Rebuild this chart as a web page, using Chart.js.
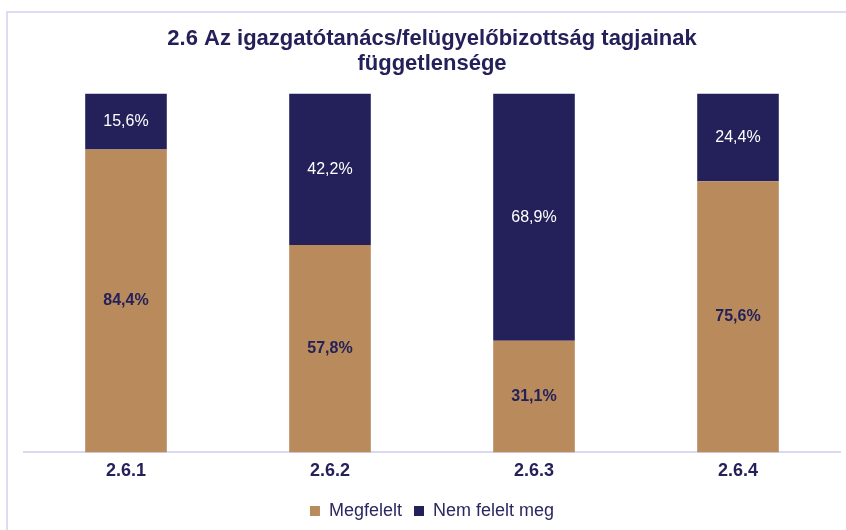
<!DOCTYPE html>
<html>
<head>
<meta charset="utf-8">
<script src="https://cdn.jsdelivr.net/npm/chart.js@4"></script>
<style>
  html, body { margin: 0; padding: 0; background: #fff; }
  body { width: 846px; height: 530px; position: relative; overflow: hidden; }
  .frame { position: absolute; left: 6px; top: 11px; width: 860px; height: 540px;
           border: 2px solid #dcdcf2; box-sizing: border-box; }
  .wrap { position: absolute; left: 0; top: 0; width: 846px; height: 530px; }
</style>
</head>
<body>
<div class="frame"></div>
<div class="wrap"><canvas id="chart" width="846" height="530"></canvas></div>
<script>
const categories = ['2.6.1', '2.6.2', '2.6.3', '2.6.4'];
const megfelelt = [84.4, 57.8, 31.1, 75.6];
const nemFelelt = [15.6, 42.2, 68.9, 24.4];
const titleLines = ['2.6 Az igazgatótanács/felügyelőbizottság tagjainak', 'függetlensége'];

const tan = '#B98A5C';
const navy = '#24215A';
const fontFamily = '"Liberation Sans", Arial, sans-serif';

// draws the percentage inside each bar segment
const barLabels = {
  id: 'barLabels',
  afterDatasetsDraw(chart) {
    const ctx = chart.ctx;
    ctx.save();
    ctx.textAlign = 'center';
    ctx.textBaseline = 'middle';
    chart.data.datasets.forEach((ds, i) => {
      const meta = chart.getDatasetMeta(i);
      meta.data.forEach((bar, j) => {
        const txt = ds.data[j].toFixed(1).replace('.', ',') + '%';
        ctx.fillStyle = i === 0 ? navy : '#ffffff';
        ctx.font = (i === 0 ? 'bold ' : '') + '16px ' + fontFamily;
        ctx.fillText(txt, bar.x, (bar.y + bar.base) / 2);
      });
    });
    ctx.restore();
  }
};

new Chart(document.getElementById('chart'), {
  type: 'bar',
  data: {
    labels: categories,
    datasets: [
      { label: 'Megfelelt', data: megfelelt, backgroundColor: tan },
      { label: 'Nem felelt meg', data: nemFelelt, backgroundColor: navy }
    ]
  },
  options: {
    responsive: false,
    animation: false,
    categoryPercentage: 1,
    barPercentage: 0.4,
    layout: { padding: { left: 24, right: 6, top: 0, bottom: 0 } },
    scales: {
      x: {
        stacked: true,
        grid: { display: false, drawTicks: false },
        border: { display: true, color: '#d9d9f2', width: 2 },
        ticks: { color: navy, padding: 8, font: { family: fontFamily, size: 18, weight: 'bold' } }
      },
      y: { stacked: true, display: false, min: 0, max: 100 }
    },
    plugins: {
      title: {
        display: true,
        text: titleLines,
        color: navy,
        font: { family: fontFamily, size: 22, weight: 'bold', lineHeight: 1.15 },
        padding: { top: 26, bottom: 17 }
      },
      legend: {
        position: 'bottom',
        labels: {
          color: '#2a2760',
          boxWidth: 10,
          boxHeight: 10,
          padding: 12,
          font: { family: fontFamily, size: 18 }
        }
      },
      tooltip: { enabled: false }
    }
  },
  plugins: [barLabels]
});
</script>
</body>
</html>
